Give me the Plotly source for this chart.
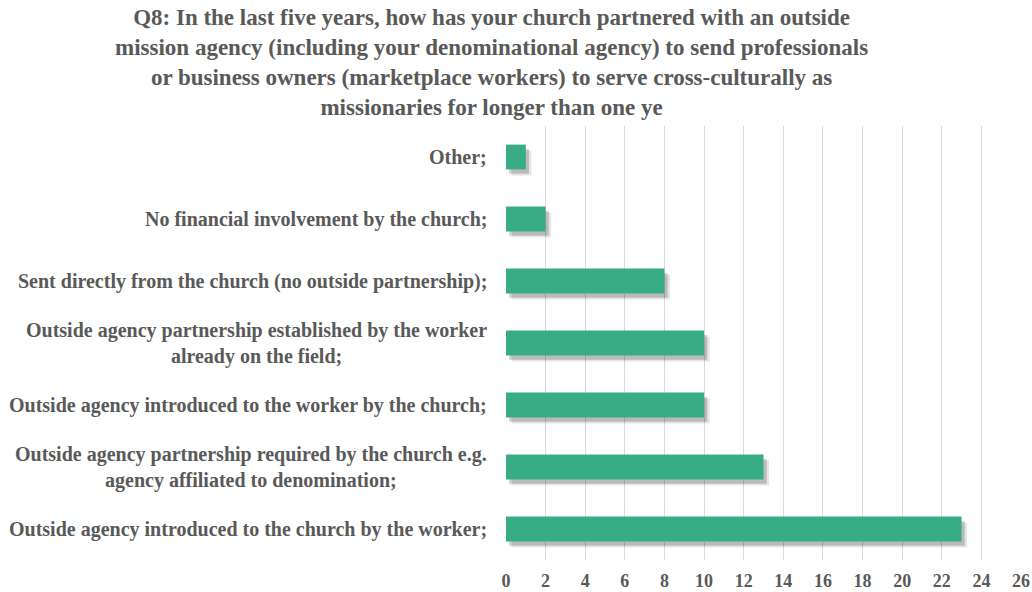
import plotly.graph_objects as go

# Survey answers, listed bottom-to-top as they appear on the chart
categories = [
    "Outside agency introduced to the church by the worker;",
    "Outside agency partnership required by the church e.g.<br>agency affiliated to denomination;",
    "Outside agency introduced to the worker by the church;",
    "Outside agency partnership established by the worker<br>already on the field;",
    "Sent directly from the church (no outside partnership);",
    "No financial involvement by the church;",
    "Other;",
]
counts = [23, 13, 10, 10, 8, 2, 1]
x_ticks = list(range(0, 27, 2))

title_text = (
    "Q8: In the last five years, how has your church partnered with an outside<br>"
    "mission agency (including your denominational agency) to send professionals<br>"
    "or business owners (marketplace workers) to serve cross-culturally as<br>"
    "missionaries for longer than one ye"
)

SERIF = "Liberation Serif, Times New Roman, serif"
TEXT_GREY = "#595959"
BAR_GREEN = "#38ad85"

W, H = 1032, 592
M_L, M_R, M_T, M_B = 506, 11, 126, 32

fig = go.Figure()

# soft drop shadow behind each bar (two translucent layers)
for extra, shift, alpha in [(0.28, 0.10, 0.10), (0.16, 0.07, 0.18)]:
    fig.add_trace(go.Bar(
        y=categories, x=counts, base=extra, orientation="h",
        width=0.4, offset=-0.2 - shift,
        marker=dict(color=f"rgba(0,0,0,{alpha})", line=dict(width=0)),
        hoverinfo="skip", showlegend=False,
    ))

fig.add_trace(go.Bar(
    y=categories, x=counts, orientation="h",
    width=0.4, offset=-0.2,
    marker=dict(color=BAR_GREEN, line=dict(width=0)),
    showlegend=False,
))

# category labels, centred line-by-line and right-aligned against the axis
for cat in categories:
    fig.add_annotation(
        x=0, xref="paper", y=cat, yref="y",
        text=cat, showarrow=False, xanchor="right", yanchor="middle",
        align="center", xshift=-17,
        font=dict(family=SERIF, size=20, color=TEXT_GREY, weight="bold"),
    )

# chart title above the plot area
plot_w = W - M_L - M_R
plot_h = H - M_T - M_B
fig.add_annotation(
    x=(491 - M_L) / plot_w, xref="paper",
    y=1 + (M_T - 3) / plot_h, yref="paper",
    text=title_text, showarrow=False, xanchor="center", yanchor="top",
    align="center",
    font=dict(family=SERIF, size=23, color=TEXT_GREY, weight="bold"),
)

fig.update_layout(
    width=W, height=H,
    paper_bgcolor="white", plot_bgcolor="white",
    barmode="overlay",
    margin=dict(l=M_L, r=M_R, t=M_T, b=M_B, autoexpand=False),
    xaxis=dict(
        range=[0, 26], tickvals=x_ticks, ticktext=[str(t) for t in x_ticks],
        showgrid=True, gridcolor="#d9d9d9", gridwidth=1,
        zeroline=False, showline=False, automargin=False,
        ticks="outside", ticklen=4, tickcolor="rgba(0,0,0,0)",
        tickfont=dict(family=SERIF, size=18, color=TEXT_GREY, weight="bold"),
    ),
    yaxis=dict(
        categoryorder="array", categoryarray=categories,
        showticklabels=False, showgrid=False, zeroline=False, showline=False,
        automargin=False, range=[-0.5, 6.5],
    ),
)

fig.write_html("out.html")
